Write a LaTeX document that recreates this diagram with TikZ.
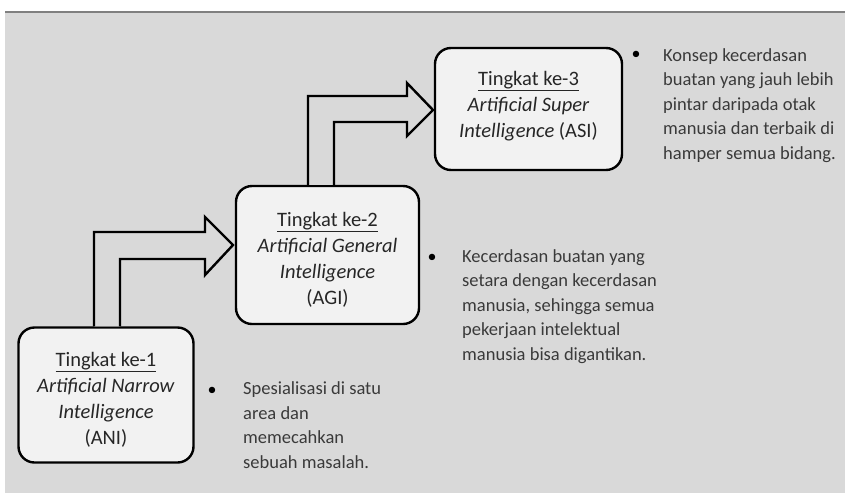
\documentclass[tikz,border=0pt]{standalone}
\usepackage{fontspec}
\setmainfont{Carlito}
\definecolor{bgc}{HTML}{D9D9D9}
\definecolor{boxc}{HTML}{F2F2F2}
\definecolor{txt}{HTML}{3A3A3A}
\begin{document}
\begin{tikzpicture}[x=1pt,y=-1pt,
  level/.style={draw=black, line width=2.4pt, fill=boxc, rounded corners=16pt,
    align=center, text=black!85, inner sep=0pt,
    font=\fontsize{20.5}{26}\selectfont},
  blockarrow/.style={draw=black, line width=2.4pt, fill=bgc, line join=miter},
  desc/.style={anchor=base west, align=left, text=txt, inner sep=0pt,
    font=\fontsize{18.5}{24.5}\selectfont},
  dot/.style={anchor=base, text=black, inner sep=0pt, font=\fontsize{18}{20}\selectfont}]
\useasboundingbox (0,0) rectangle (845,493);
\fill[white] (0,0) rectangle (845,493);
\fill[bgc] (5,12) rectangle (845,493);
\draw[line width=1.2pt, gray] (5,12) -- (845,12);

\node[level, minimum width=175pt, minimum height=135pt] (b1) at (106,395)
  {\rule{0pt}{23pt}\underline{Tingkat ke-1}\\ \textit{Artificial Narrow}\\ \textit{Intelligence}\\ (ANI)};
\node[level, minimum width=183pt, minimum height=138pt] (b2) at (327.5,255)
  {\rule{0pt}{23pt}\underline{Tingkat ke-2}\\ \textit{Artificial General}\\ \textit{Intelligence}\\ (AGI)};
\node[level, minimum width=187pt, minimum height=122pt] (b3) at (528.5,109)
  {\underline{Tingkat ke-3}\\ \textit{Artificial Super}\\ \textit{Intelligence} (ASI)\rule[-9pt]{0pt}{0pt}};

\draw[blockarrow] (94,0 |- b1.north) -- (94,232) -- (205,232) -- (205,217)
  -- (233,245) -- (205,275) -- (205,259) -- (120,259) -- (120,0 |- b1.north);
\draw[blockarrow] (308,0 |- b2.north) -- (308,96) -- (407,96) -- (407,83)
  -- (433,110) -- (407,136) -- (407,122) -- (334,122) -- (334,0 |- b2.north);

\node[dot] (d3) at (636,59) {•};
\node[desc] (t3) at (663,159) {Konsep kecerdasan\\ buatan yang jauh lebih\\ pintar daripada otak\\ manusia dan terbaik di\\ hamper semua bidang.};
\node[dot] (d2) at (432,262) {•};
\node[desc] (t2) at (462,360) {Kecerdasan buatan yang\\ setara dengan kecerdasan\\ manusia, sehingga semua\\ pekerjaan intelektual\\ manusia bisa digantikan.};
\node[dot] (d1) at (212,395) {•};
\node[desc] (t1) at (243,468) {Spesialisasi di satu\\ area dan\\ memecahkan\\ sebuah masalah.};
\end{tikzpicture}
\end{document}
